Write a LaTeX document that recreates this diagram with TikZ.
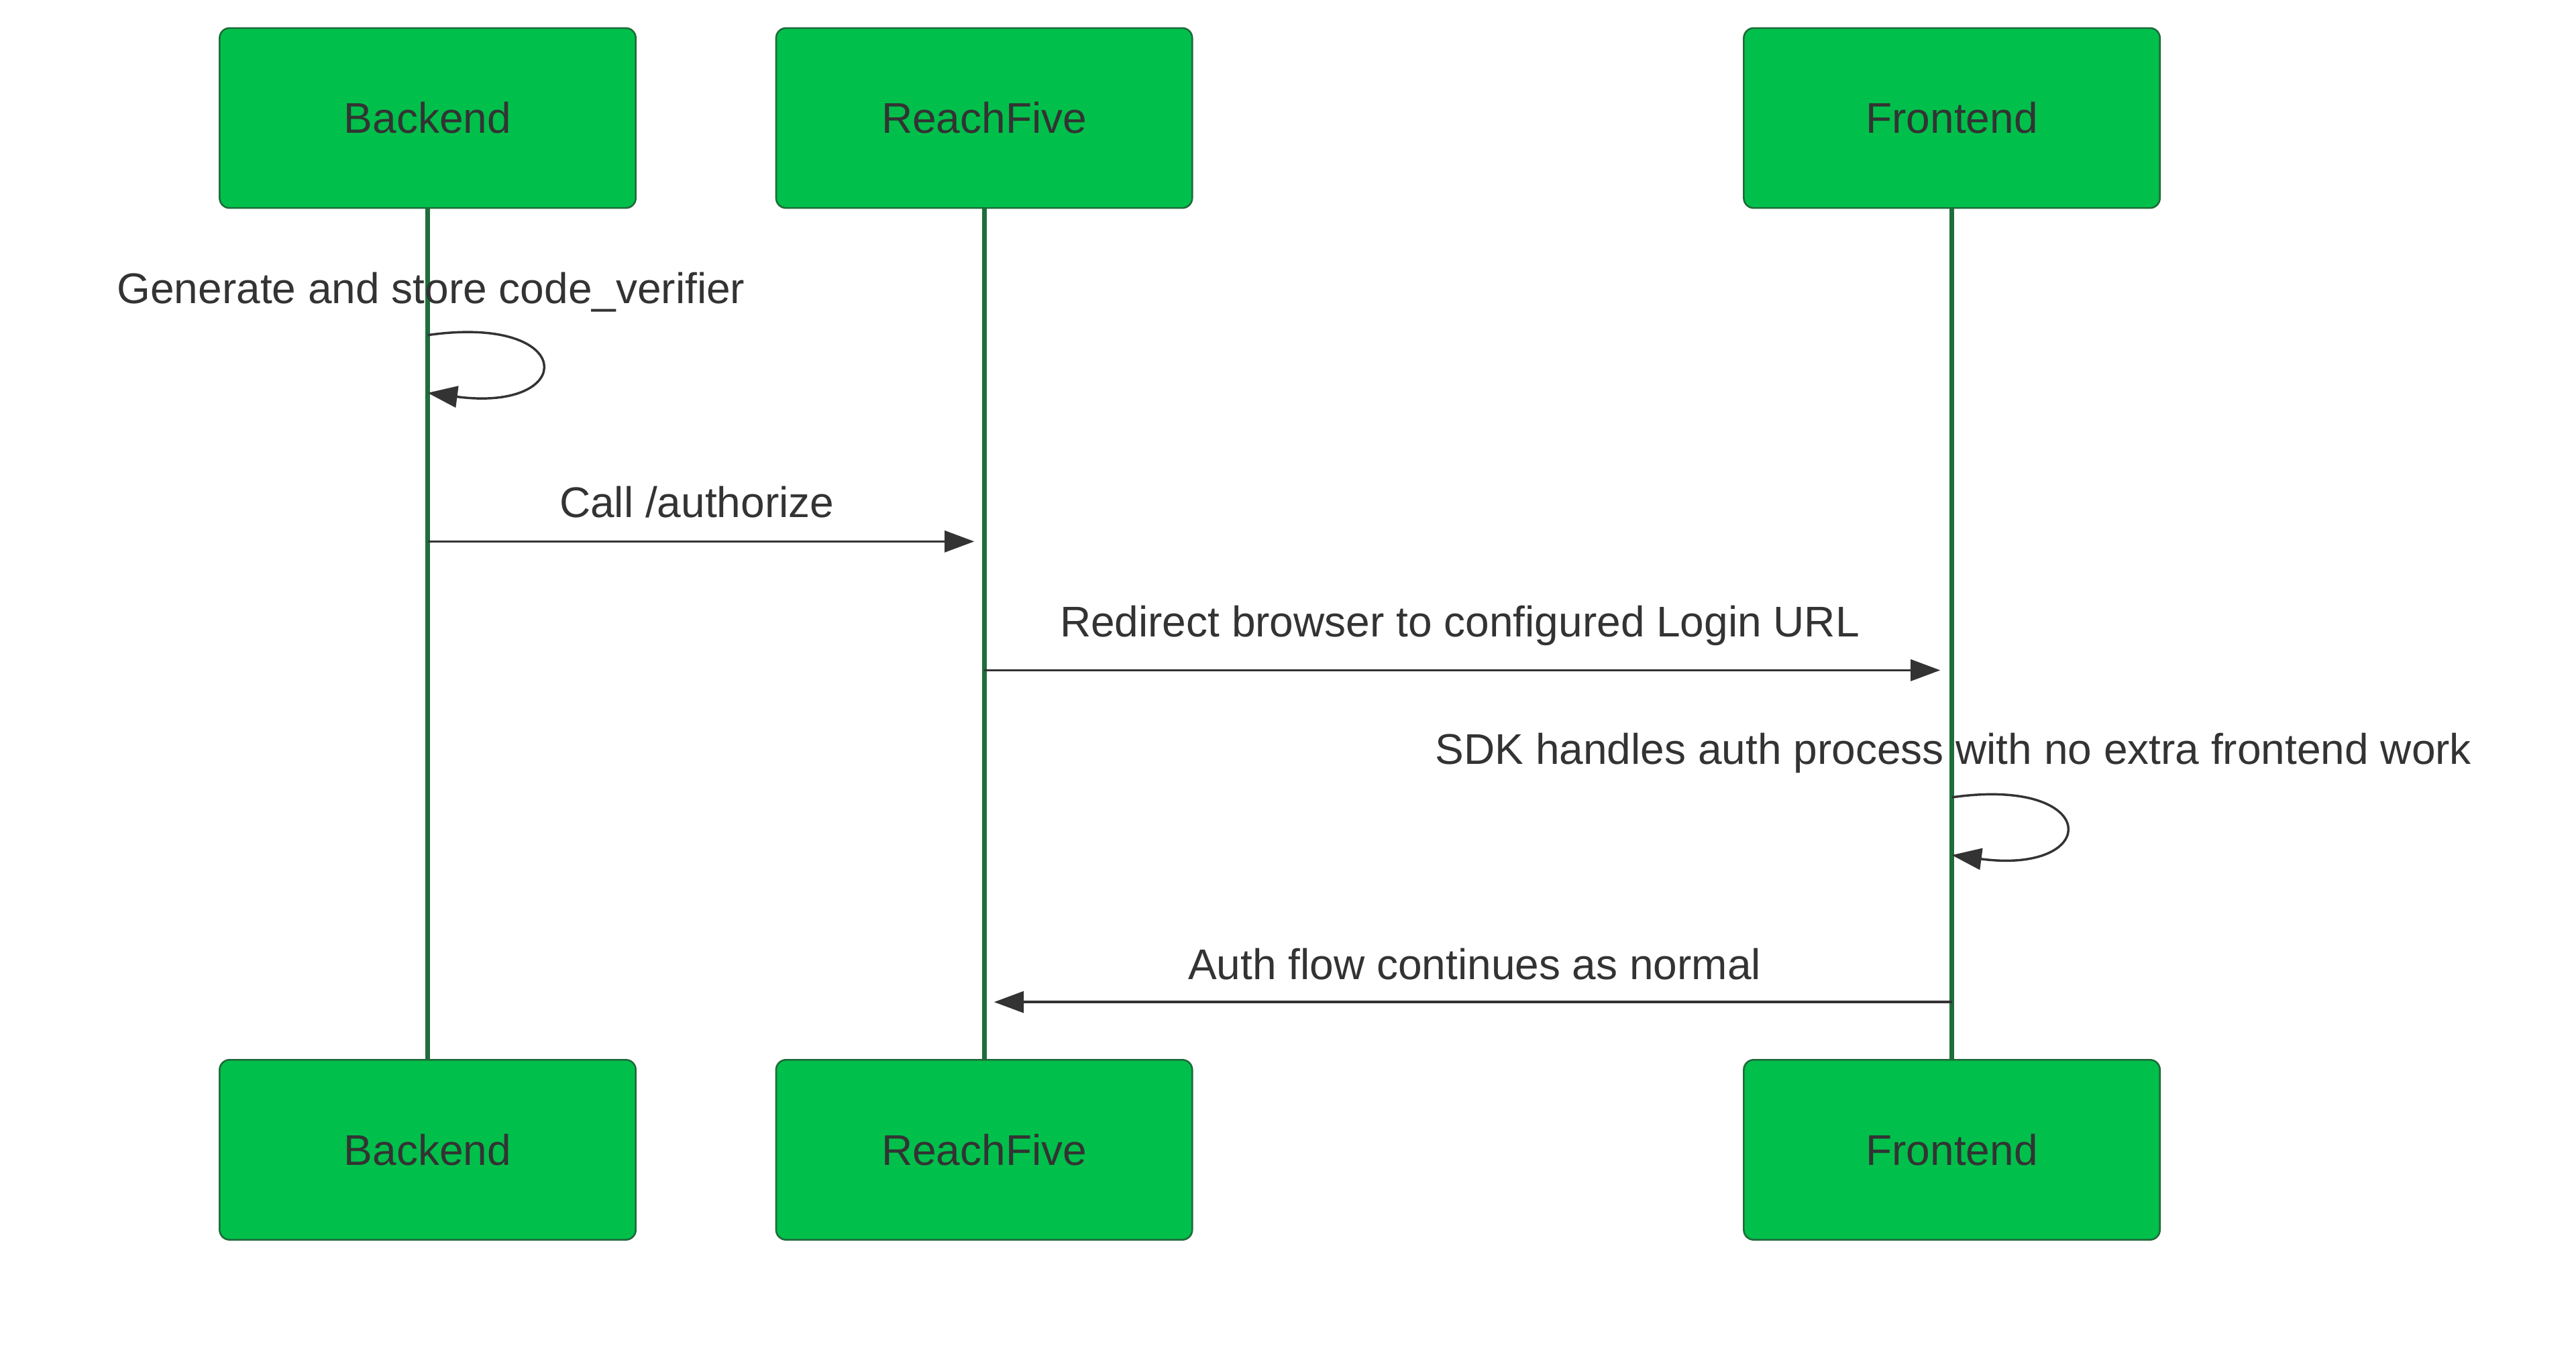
\documentclass[tikz,border=0pt]{standalone}
\usepackage{fontspec}
\setmainfont{Liberation Sans}
\usetikzlibrary{arrows.meta}
\definecolor{boxg}{HTML}{00C04B}
\definecolor{boxb}{HTML}{1F6B3A}
\definecolor{life}{HTML}{1E6E3C}
\definecolor{txt}{HTML}{333333}
\begin{document}
\begin{tikzpicture}[x=0.05cm,y=-0.05cm,
  actor/.style={draw=boxb,line width=1.5pt,fill=boxg,rounded corners=0.3cm,minimum width=12.6cm,minimum height=5.45cm,text=txt,font=\fontsize{37}{44}\selectfont},
  lifeline/.style={draw=life,line width=4pt},
  msg/.style={draw=txt,line width=2pt,-{Triangle[length=0.9cm,width=0.65cm]}},
  lbl/.style={text=txt,font=\fontsize{37}{44}\selectfont}]
\useasboundingbox (0,0) rectangle (1560,817.4);
\draw[lifeline] (259,126) -- (259,642);
\draw[lifeline] (596,126) -- (596,642);
\draw[lifeline] (1182,126) -- (1182,642);
\node[actor] (bt) at (259,71.5) {Backend};
\node[actor] (rt) at (596,71.5) {ReachFive};
\node[actor] (ft) at (1182,71.5) {Frontend};
\node[actor] (bb) at (259,696.5) {Backend};
\node[actor] (rb) at (596,696.5) {ReachFive};
\node[actor] (fb) at (1182,696.5) {Frontend};
% self loop backend
\coordinate (b1) at (259,203);
\coordinate (b2) at (259,238);
\node[lbl] (l1) at (261,177) {Generate and store code\_verifier};
\draw[msg] (b1) .. controls (350,190) and (350,250) .. (b2);
% call authorize
\coordinate (b3) at (259,328);
\coordinate (r3) at (590,328);
\node[lbl] (l2) at (422,304) {Call /authorize};
\draw[msg] (b3) -- (r3);
% redirect
\coordinate (r4) at (596,406);
\coordinate (f4) at (1175,406);
\node[lbl] (l3) at (884,379) {Redirect browser to configured Login URL};
\draw[msg] (r4) -- (f4);
% self loop frontend
\coordinate (f5) at (1182,483);
\coordinate (f6) at (1182,518);
\node[lbl] (l4) at (1183,456) {SDK handles auth process with no extra frontend work};
\draw[msg] (f5) .. controls (1273,470) and (1273,530) .. (f6);
% auth flow
\coordinate (f7) at (1182,607);
\coordinate (r7) at (602,607);
\node[lbl] (l5) at (893,584) {Auth flow continues as normal};
\draw[msg] (f7) -- (r7);
\end{tikzpicture}
\end{document}
